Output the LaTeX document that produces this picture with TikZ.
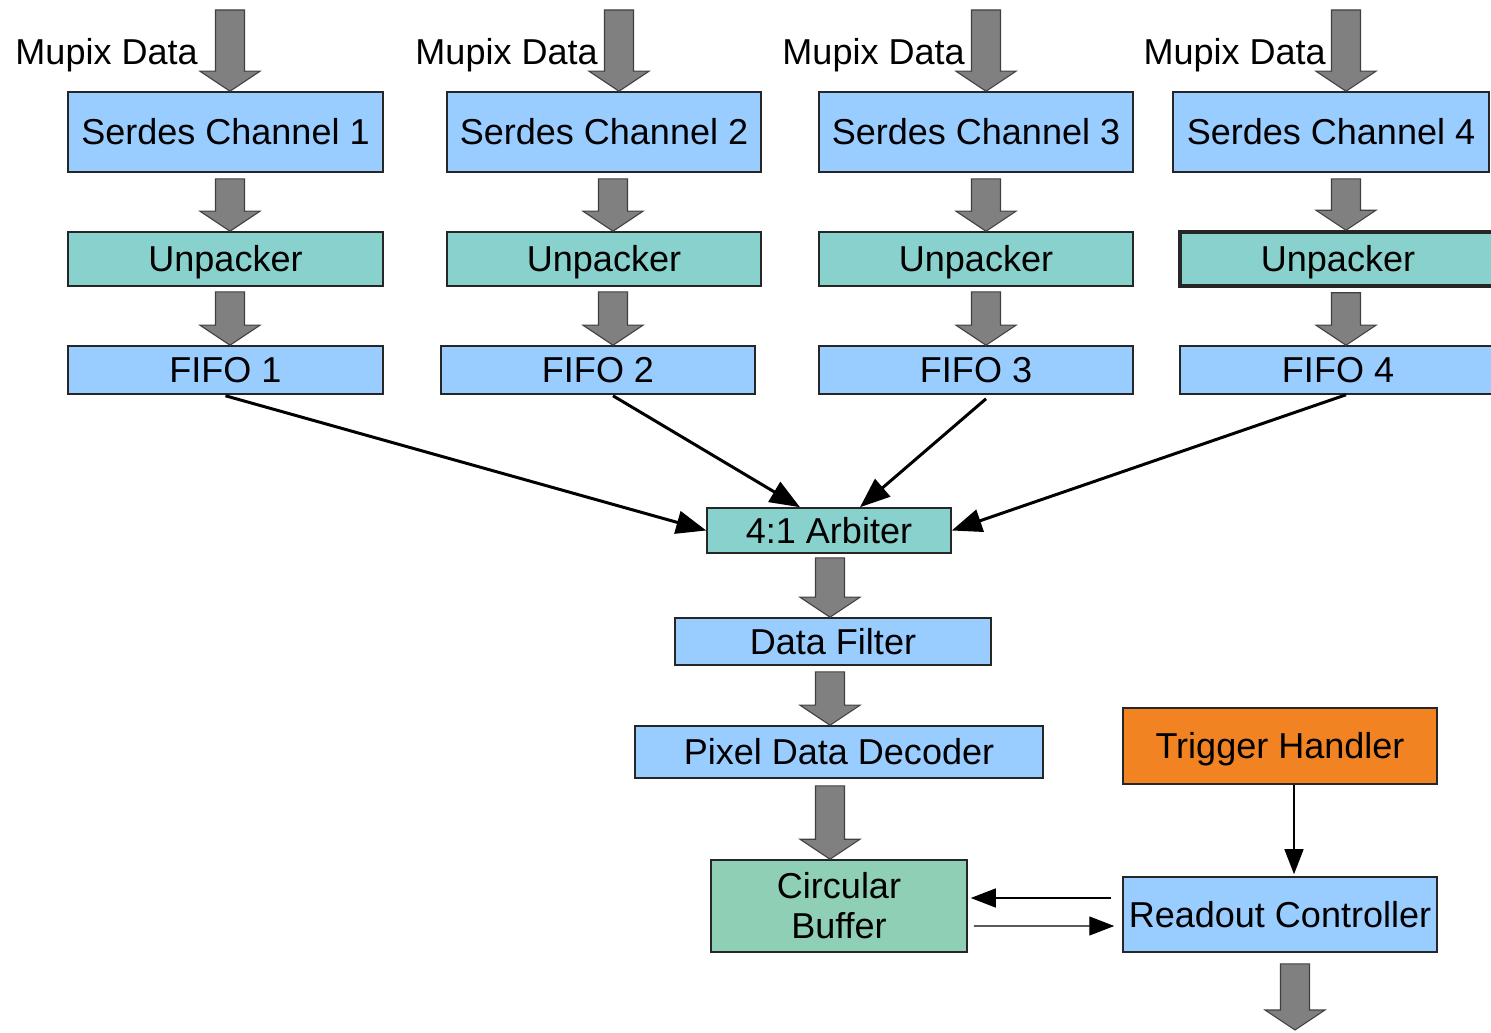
\documentclass[tikz,border=0pt]{standalone}
\usepackage{xcolor}
\usepackage{fontspec}
\setmainfont{Liberation Sans}
\usepackage{tikz}
\usetikzlibrary{calc,arrows.meta}
\definecolor{BL}{HTML}{99CCFF}
\definecolor{TL}{HTML}{88D1CC}
\definecolor{GN}{HTML}{8ECFB5}
\definecolor{OR}{HTML}{F28322}
\definecolor{GR}{HTML}{808080}
\tikzset{
  box/.style={draw=black!85, line width=0.9pt, inner sep=0pt, text centered, text height=19pt, text depth=4.3pt, font=\fontsize{20.5}{24}\selectfont},
  lbl/.style={inner sep=0pt, font=\fontsize{20.5}{24}\selectfont},
  fat/.style={fill=GR, draw=black!75, line width=0.6pt, line join=miter},
  link/.style={-{Triangle[length=0.6cm,width=0.46cm]}, line width=1.7pt},
  thinlink/.style={-{Triangle[length=0.5cm,width=0.38cm]}, line width=0.8pt},
}
% big grey arrow: x and top from #1, tip at the y of #2
\newcommand{\fatarrow}[2]{%
  \draw[fat] let \p1=#1, \p2=#2 in
    (\x1-0.29cm,\y1) -- (\x1+0.29cm,\y1) -- (\x1+0.29cm,\y2+0.4cm) -- (\x1+0.6cm,\y2+0.4cm)
    -- (\x1,\y2) -- (\x1-0.6cm,\y2+0.4cm) -- (\x1-0.29cm,\y2+0.4cm) -- cycle;%
}
\begin{document}
\begin{tikzpicture}[x=0.02cm, y=-0.02cm]%
\useasboundingbox (0,0) rectangle (1491,1033);%
% channels
\node[box, fill=BL, minimum width=6.3cm, minimum height=1.6cm] (ser1) at (225.5,132) {Serdes Channel 1};%
\node[box, fill=BL, minimum width=6.28cm, minimum height=1.6cm] (ser2) at (604,132) {Serdes Channel 2};%
\node[box, fill=BL, minimum width=6.28cm, minimum height=1.6cm] (ser3) at (976,132) {Serdes Channel 3};%
\node[box, fill=BL, minimum width=6.32cm, minimum height=1.6cm] (ser4) at (1331,132) {Serdes Channel 4};%
\node[box, fill=TL, minimum width=6.3cm, minimum height=1.08cm] (unp1) at (225.5,259) {Unpacker};%
\node[box, fill=TL, minimum width=6.28cm, minimum height=1.08cm] (unp2) at (604,259) {Unpacker};%
\node[box, fill=TL, minimum width=6.28cm, minimum height=1.08cm] (unp3) at (976,259) {Unpacker};%
\node[box, fill=TL, line width=2pt, minimum width=6.32cm, minimum height=1.08cm] (unp4) at (1338,259) {Unpacker};%
\node[box, fill=BL, minimum width=6.3cm, minimum height=0.96cm] (fifo1) at (225.5,370) {FIFO 1};%
\node[box, fill=BL, minimum width=6.28cm, minimum height=0.96cm] (fifo2) at (598,370) {FIFO 2};%
\node[box, fill=BL, minimum width=6.28cm, minimum height=0.96cm] (fifo3) at (976,370) {FIFO 3};%
\node[box, fill=BL, minimum width=6.32cm, minimum height=0.96cm] (fifo4) at (1338,370) {FIFO 4};%
% inputs
\node[lbl, anchor=base east] (mu1) at (198,65) {Mupix Data};%
\node[lbl, anchor=base east] (mu2) at (598,65) {Mupix Data};%
\node[lbl, anchor=base east] (mu3) at (965,65) {Mupix Data};%
\node[lbl, anchor=base east] (mu4) at (1326,65) {Mupix Data};%
\coordinate (in1) at (230,10);%
\coordinate (in2) at (619,10);%
\coordinate (in3) at (986,10);%
\coordinate (in4) at (1346,10);%
\fatarrow{(in1)}{(ser1.north)}%
\fatarrow{(in2)}{(ser2.north)}%
\fatarrow{(in3)}{(ser3.north)}%
\fatarrow{(in4)}{(ser4.north)}%
\fatarrow{($(ser1.south)+(4.5,6)$)}{(unp1.north)}%
\fatarrow{($(ser2.south)+(9,6)$)}{(unp2.north)}%
\fatarrow{($(ser3.south)+(10,6)$)}{(unp3.north)}%
\fatarrow{($(ser4.south)+(15,6)$)}{(unp4.north)}%
\fatarrow{($(unp1.south)+(4.5,5)$)}{(fifo1.north)}%
\fatarrow{($(unp2.south)+(9,5)$)}{(fifo2.north)}%
\fatarrow{($(unp3.south)+(10,5)$)}{(fifo3.north)}%
\fatarrow{($(unp4.south)+(8,5)$)}{(fifo4.north)}%
% merge
\node[box, fill=TL, minimum width=4.88cm, minimum height=0.9cm] (arb) at (829,530.5) {4:1 Arbiter};%
\draw[link] ($(fifo1.south)+(0,1)$) -- (arb.west);%
\draw[link] ($(fifo2.south)+(15,1)$) -- ($(arb.north)+(-29,0)$);%
\draw[link] ($(fifo3.south)+(10,4)$) -- ($(arb.north)+(31,0)$);%
\draw[link] ($(fifo4.south)+(8,0)$) -- (arb.east);%
\node[box, fill=BL, minimum width=6.32cm, minimum height=0.94cm] (filt) at (833,641.5) {Data Filter};%
\node[box, fill=BL, minimum width=8.16cm, minimum height=1.04cm] (dec) at (839,752) {Pixel Data Decoder};%
\node[box, fill=GN, minimum width=5.12cm, minimum height=1.84cm, align=center, text height=, text depth=, font=\fontsize{20.5}{22.7}\selectfont] (buf) at (839,906) {Circular\\Buffer};%
\fatarrow{($(arb.south)+(1,4)$)}{(filt.north)}%
\fatarrow{($(filt.south)+(-3,6)$)}{(dec.north)}%
\fatarrow{($(dec.south)+(-9,7)$)}{(buf.north)}%
% readout
\node[box, fill=OR, minimum width=6.28cm, minimum height=1.52cm] (trig) at (1280,746) {Trigger Handler};%
\node[box, fill=BL, minimum width=6.28cm, minimum height=1.5cm] (rdo) at (1280,914.5) {Readout Controller};%
\draw[thinlink] ($(trig.south)+(14,0)$) -- ($(rdo.north)+(14,-2)$);%
\draw[thinlink] ($(rdo.west)+(-11,-16.5)$) -- ($(buf.east)+(3,-8)$);%
\draw[thinlink] ($(buf.east)+(6,20)$) -- ($(rdo.west)+(-8,11.5)$);%
\coordinate (out) at (1295,1030);%
\fatarrow{($(rdo.south)+(15,11)$)}{(out)}%
\end{tikzpicture}
\end{document}
